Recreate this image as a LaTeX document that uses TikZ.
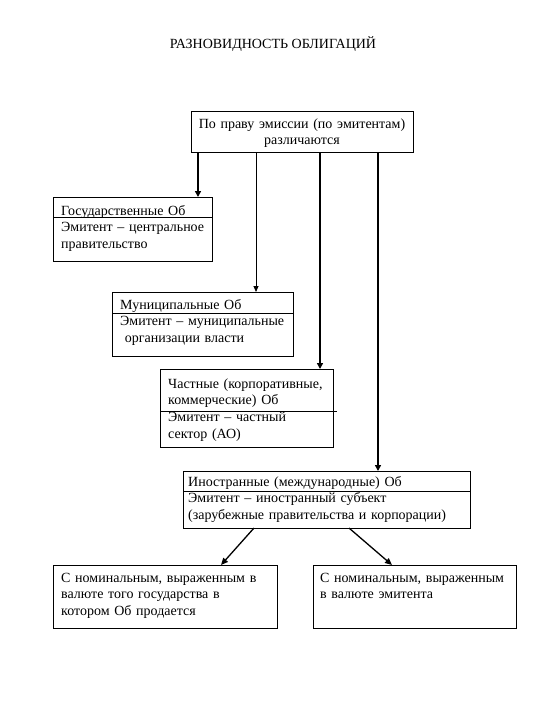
\documentclass[tikz,border=0pt]{standalone}
\usepackage{fontspec}
\setmainfont{Liberation Serif}
\usetikzlibrary{arrows.meta}
\begin{document}
\begin{tikzpicture}[x=1pt,y=-1pt,
  box/.style={draw, line width=0.8pt, anchor=north west, inner sep=0pt, outer sep=0pt},
  txt/.style={anchor=base west, inner sep=0pt, align=left, text width=320pt,
    font=\fontsize{14}{16.7}\selectfont},
  divider/.style={line width=0.8pt},
  thk/.style={line width=2.2pt, -{Triangle[length=6pt,width=6pt]}},
  thn/.style={line width=0.8pt, -{Triangle[length=6pt,width=5pt]}},
  diag/.style={line width=1.3pt, -{Triangle[length=7pt,width=6pt]}}]
\useasboundingbox (0,0) rectangle (540,720);

\node[anchor=base, inner sep=0pt, font=\fontsize{14}{16}\selectfont] (title) at (273,48) {РАЗНОВИДНОСТЬ ОБЛИГАЦИЙ};

% top box
\node[box, minimum width=222pt, minimum height=41pt] (top) at (191,111) {};
\node[anchor=base, inner sep=0pt, align=center, text width=222pt,
  font=\fontsize{14}{16.7}\selectfont] (toptxt) at (302,128)
  {По праву эмиссии (по эмитентам)\\различаются};

% box 1
\node[box, minimum width=159pt, minimum height=64pt] (b1) at (53,197) {};
\node[txt] (t1) at (61,215) {Государственные Об\\Эмитент – центральное\\правительство};
\draw[divider] (b1.west |- 0,217) -- (b1.east |- 0,217);

% box 2
\node[box, minimum width=181pt, minimum height=64pt] (b2) at (112,292) {};
\node[txt] (t2) at (120,309) {Муниципальные Об\\Эмитент – муниципальные\\\ организации власти};
\draw[divider] (b2.west |- 0,313) -- (b2.east |- 0,313);

% box 3
\node[box, minimum width=173pt, minimum height=78pt] (b3) at (160,369) {};
\node[txt] (t3) at (168,388) {Частные (корпоративные,\\коммерческие) Об\\Эмитент – частный\\сектор (АО)};
\draw[divider] (b3.west |- 0,411) -- ([xshift=4pt]b3.east |- 0,411);

% box 4
\node[box, minimum width=287pt, minimum height=57pt] (b4) at (183,471) {};
\node[txt] (t4) at (188,486) {Иностранные (международные) Об\\Эмитент – иностранный субъект\\(зарубежные правительства и корпорации)};
\draw[divider] (b4.west |- 0,491) -- (b4.east |- 0,491);

% box 5
\node[box, minimum width=224pt, minimum height=63pt] (b5) at (53,565) {};
\node[txt] (t5) at (61,582) {С номинальным, выраженным в\\валюте того государства в\\котором Об продается};

% box 6
\node[box, minimum width=203pt, minimum height=63pt] (b6) at (313,565) {};
\node[txt] (t6) at (320,582) {С номинальным, выраженным\\в валюте эмитента};

% connectors
\draw[thk] (198,0 |- top.south) -- (198,0 |- b1.north);
\draw[thn] (256,0 |- top.south) -- (256,0 |- b2.north);
\draw[thk] (320,0 |- top.south) -- (320,0 |- b3.north);
\draw[thk] (378,0 |- top.south) -- (378,0 |- b4.north);
\draw[diag] (254,0 |- b4.south) -- (221,0 |- b5.north);
\draw[diag] (349,0 |- b4.south) -- (392,0 |- b6.north);
\end{tikzpicture}
\end{document}
